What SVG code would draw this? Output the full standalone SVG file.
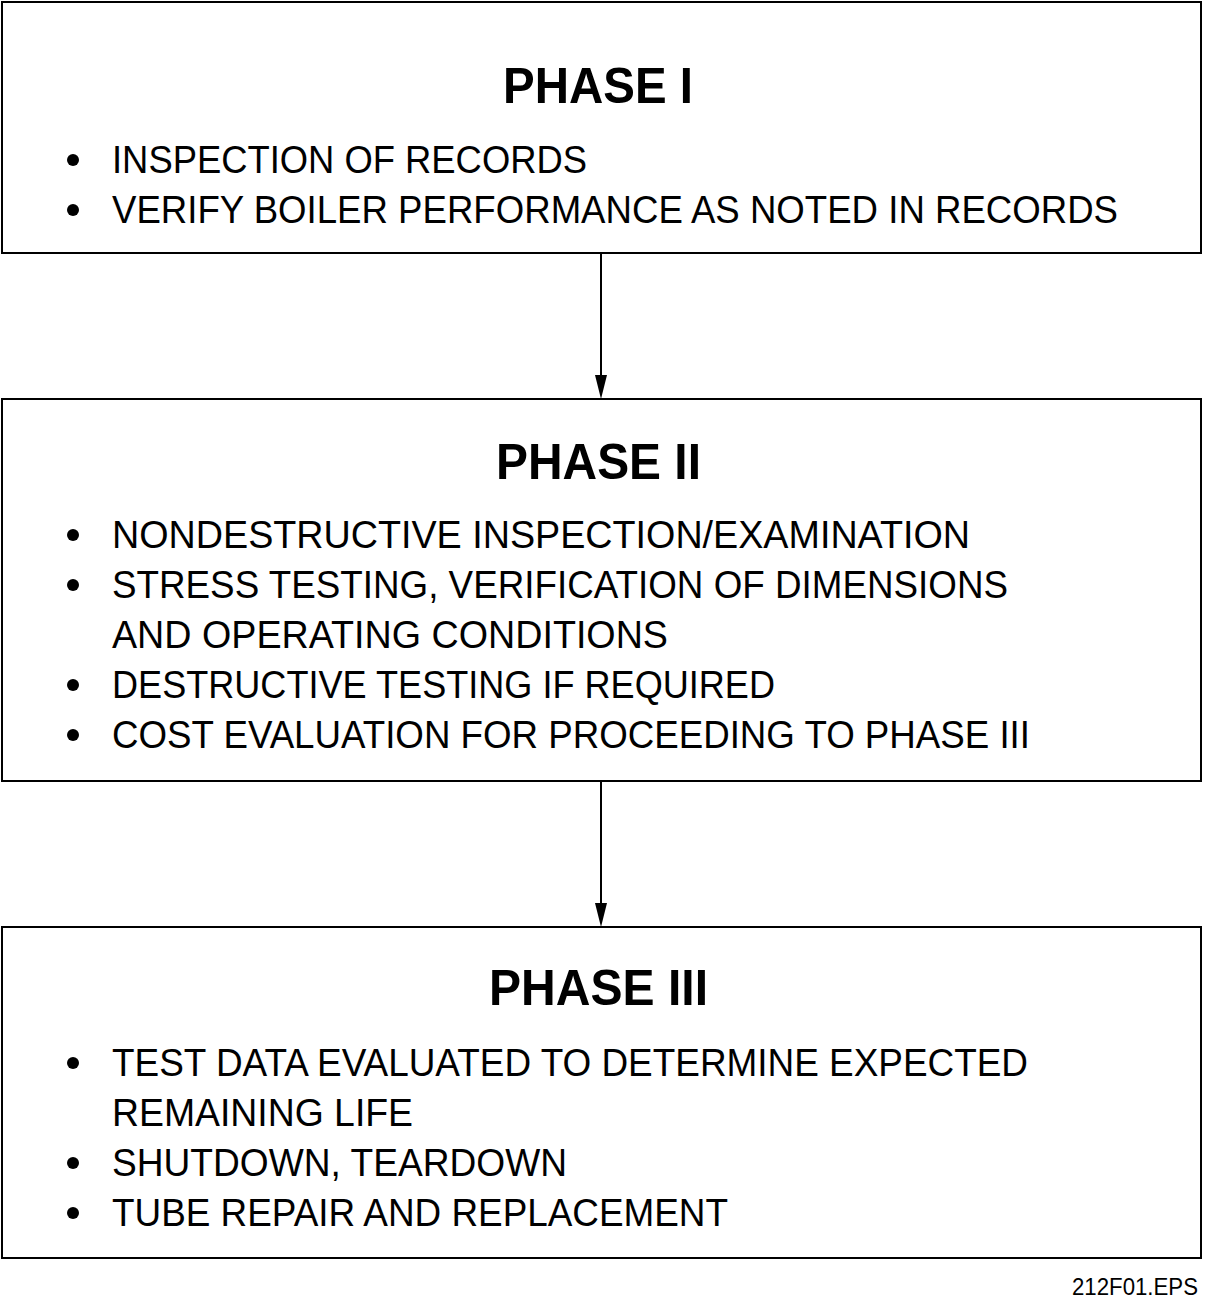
<svg xmlns="http://www.w3.org/2000/svg" width="1205" height="1306" viewBox="0 0 1205 1306">
<style>
.box{fill:#fff;stroke:#000;stroke-width:2}
.t{font-family:"Liberation Sans",Arial,sans-serif;font-weight:bold;font-size:50px;text-anchor:middle}
.b{font-family:"Liberation Sans",Arial,sans-serif;font-size:38px}
.lbl{font-family:"Liberation Sans",Arial,sans-serif;font-size:23px;text-anchor:end}
.con{stroke:#000;stroke-width:2;fill:none}
</style>
<rect width="1205" height="1306" fill="#fff"/>
<g id="phase1">
<rect class="box" x="2" y="2" width="1199" height="251"/>
<text class="t" x="598" y="103" textLength="190" lengthAdjust="spacingAndGlyphs">PHASE I</text>
<circle cx="73" cy="160" r="6"/>
<text class="b" x="112" y="173" textLength="475" lengthAdjust="spacingAndGlyphs">INSPECTION OF RECORDS</text>
<circle cx="73" cy="210" r="6"/>
<text class="b" x="112" y="223" textLength="1006" lengthAdjust="spacingAndGlyphs">VERIFY BOILER PERFORMANCE AS NOTED IN RECORDS</text>
</g>
<g id="phase2">
<rect class="box" x="2" y="399" width="1199" height="382"/>
<text class="t" x="598.5" y="479" textLength="205" lengthAdjust="spacingAndGlyphs">PHASE II</text>
<circle cx="73" cy="535" r="6"/>
<text class="b" x="112" y="548" textLength="858" lengthAdjust="spacingAndGlyphs">NONDESTRUCTIVE INSPECTION/EXAMINATION</text>
<circle cx="73" cy="585" r="6"/>
<text class="b" x="112" y="598" textLength="896" lengthAdjust="spacingAndGlyphs">STRESS TESTING, VERIFICATION OF DIMENSIONS</text>
<text class="b" x="112" y="648" textLength="556" lengthAdjust="spacingAndGlyphs">AND OPERATING CONDITIONS</text>
<circle cx="73" cy="685" r="6"/>
<text class="b" x="112" y="698" textLength="663" lengthAdjust="spacingAndGlyphs">DESTRUCTIVE TESTING IF REQUIRED</text>
<circle cx="73" cy="735" r="6"/>
<text class="b" x="112" y="748" textLength="918" lengthAdjust="spacingAndGlyphs">COST EVALUATION FOR PROCEEDING TO PHASE III</text>
</g>
<g id="phase3">
<rect class="box" x="2" y="927" width="1199" height="331"/>
<text class="t" x="598.5" y="1005" textLength="219" lengthAdjust="spacingAndGlyphs">PHASE III</text>
<circle cx="73" cy="1063" r="6"/>
<text class="b" x="112" y="1076" textLength="916" lengthAdjust="spacingAndGlyphs">TEST DATA EVALUATED TO DETERMINE EXPECTED</text>
<text class="b" x="112" y="1126" textLength="301" lengthAdjust="spacingAndGlyphs">REMAINING LIFE</text>
<circle cx="73" cy="1163" r="6"/>
<text class="b" x="112" y="1176" textLength="455" lengthAdjust="spacingAndGlyphs">SHUTDOWN, TEARDOWN</text>
<circle cx="73" cy="1213" r="6"/>
<text class="b" x="112" y="1226" textLength="616" lengthAdjust="spacingAndGlyphs">TUBE REPAIR AND REPLACEMENT</text>
</g>
<g id="connectors">
<line class="con" x1="601" y1="253" x2="601" y2="375"/>
<path d="M595,375 L607,375 L601,399 Z" fill="#000"/>
<line class="con" x1="601" y1="781" x2="601" y2="903"/>
<path d="M595,903 L607,903 L601,927 Z" fill="#000"/>
</g>
<text class="lbl" x="1198" y="1295" textLength="126" lengthAdjust="spacingAndGlyphs">212F01.EPS</text>
</svg>
